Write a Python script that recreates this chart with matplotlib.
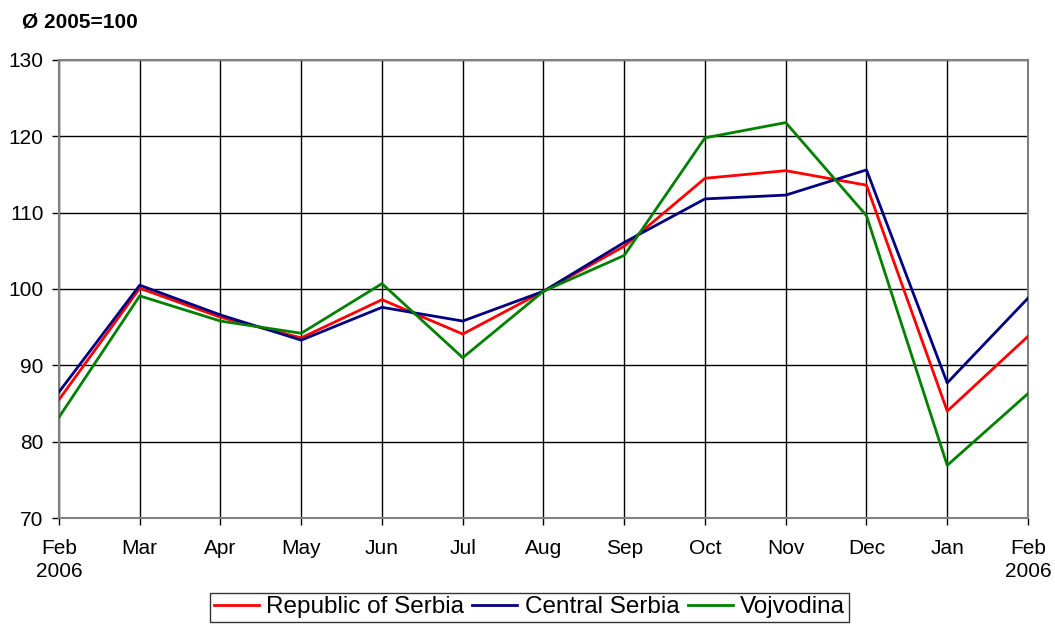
import matplotlib.pyplot as plt

plt.rcParams['font.family'] = ['Liberation Sans', 'DejaVu Sans']

# Data (index, 2005 average = 100)
months = ['Feb\n2006', 'Mar', 'Apr', 'May', 'Jun', 'Jul', 'Aug',
          'Sep', 'Oct', 'Nov', 'Dec', 'Jan', 'Feb\n2006']
serbia = [85.5, 100.1, 96.3, 93.6, 98.6, 94.1, 99.7, 105.6, 114.5, 115.5, 113.6, 84.0, 93.8]
central = [86.5, 100.5, 96.6, 93.3, 97.6, 95.8, 99.7, 106.1, 111.8, 112.3, 115.6, 87.7, 98.8]
vojvodina = [83.2, 99.1, 95.8, 94.2, 100.7, 91.0, 99.7, 104.4, 119.8, 121.8, 109.6, 76.9, 86.3]

fig = plt.figure(figsize=(10.55, 6.26), dpi=100)
ax = fig.add_axes([0.0559, 0.1725, 0.9185, 0.7317])

x = range(len(months))
ax.plot(x, serbia, color='#ff0000', lw=2, label='Republic of Serbia', zorder=3)
ax.plot(x, central, color='#000080', lw=2, label='Central Serbia', zorder=3)
ax.plot(x, vojvodina, color='#008000', lw=2, label='Vojvodina', zorder=3)

ax.set_xlim(0, len(months) - 1)
ax.set_ylim(70, 130)
ax.set_yticks(range(70, 131, 10))
ax.set_xticks(list(x))
ax.set_xticklabels(months, linespacing=1.25)

# Grid and frame
ax.grid(True, color='black', lw=1, zorder=0)
for s in ax.spines.values():
    s.set_color('#808080')
    s.set_linewidth(1.5)
ax.tick_params(axis='both', labelsize=15, length=5, color='black', width=1)
ax.tick_params(axis='x', pad=10)
ax.tick_params(axis='y', pad=6)

# Units label
fig.text(0.021, 0.965, 'Ø 2005=100', fontsize=15, fontweight='bold', va='center')

leg = ax.legend(loc='upper center', bbox_to_anchor=(0.4855, -0.163), ncol=3,
                fontsize=17.5, frameon=True, fancybox=False, edgecolor='black',
                handlelength=1.85, handletextpad=0.3, columnspacing=0.35,
                borderpad=0.15, borderaxespad=0)
leg.get_frame().set_linewidth(1)

plt.savefig('out.png', dpi=100)
